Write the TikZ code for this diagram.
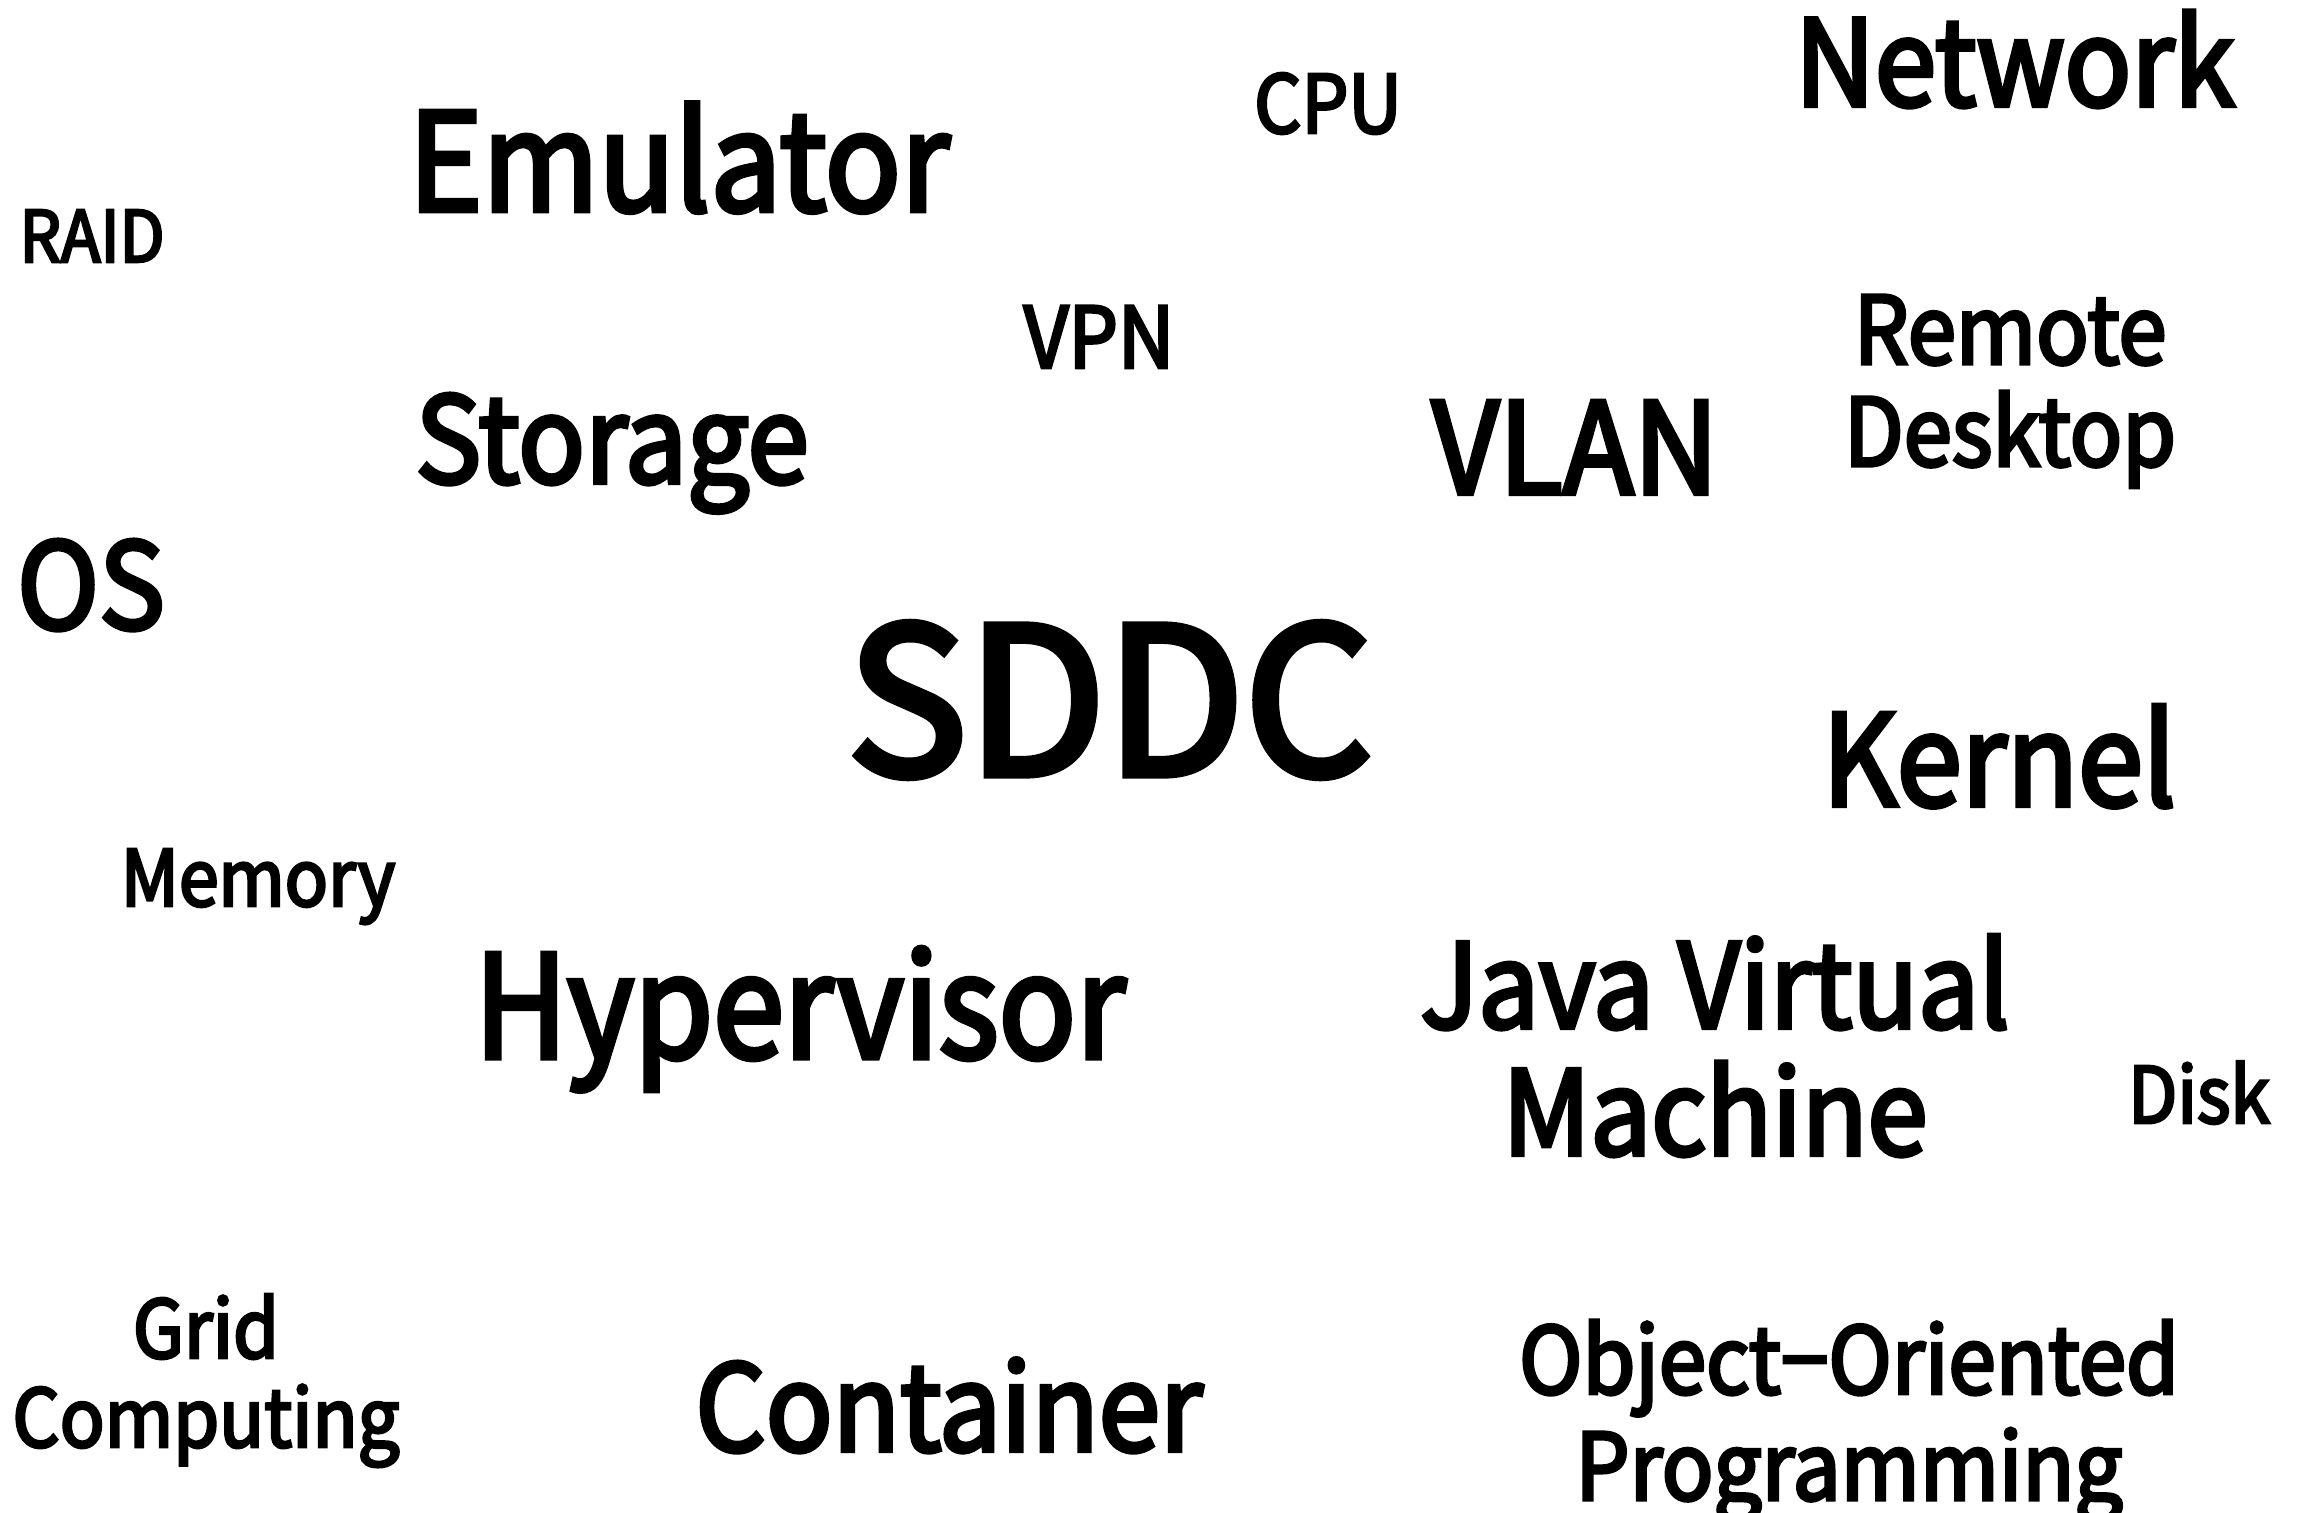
\documentclass[tikz,border=0pt]{standalone}
\usepackage{fontspec}
\setmainfont{Noto Sans CJK KR}[FakeStretch=0.92, FakeBold=3.5]
\newcommand{\wcs}[2]{\fontsize{#1}{#2}\selectfont}
\tikzset{word/.style={anchor=base, inner sep=0pt, align=center, text=black}}
\begin{document}
\begin{tikzpicture}[x=0.01cm,y=-0.01cm]
\fill[white] (0,0) rectangle (2310,1512);
\useasboundingbox (0,0) rectangle (2310,1512);
\node[word,font=\wcs{34.1}{38}] (network) at (2015,106) {Network};
\node[word,font=\wcs{38.8}{44}] (emulator) at (679,211) {Emulator};
\node[word,font=\wcs{22.9}{26}] (cpu) at (1328,133) {CPU};
\node[word,font=\wcs{20.2}{23}] (raid) at (92,262) {RAID};
\node[word,font=\wcs{24.1}{27}] (vpn) at (1099,368) {VPN};
\node[word,font=\wcs{26.8}{29}] (remote) at (2010,466) {Remote\\Desktop};
\node[word,font=\wcs{34.1}{38}] (storage) at (612,483) {Storage};
\node[word,font=\wcs{36.1}{40}] (vlan) at (1575,494) {VLAN};
\node[word,font=\wcs{34.1}{38}] (os) at (91,629) {OS};
\node[word,font=\wcs{58.2}{64},xscale=1.07] (sddc) at (1110,775) {SDDC};
\node[word,font=\wcs{36.1}{40}] (kernel) at (1999,806) {Kernel};
\node[word,font=\wcs{22.1}{25}] (memory) at (258,906) {Memory};
\node[word,font=\wcs{40.7}{45},xscale=0.97] (hypervisor) at (800,1058) {Hypervisor};
\node[word,font=\wcs{33.4}{36.1}] (jvm) at (1715,1155) {Java Virtual\\Machine};
\node[word,font=\wcs{22.1}{25}] (disk) at (2199,1123) {Disk};
\node[word,font=\wcs{22.9}{25.3}] (grid) at (206,1447) {Grid\\Computing};
\node[word,font=\wcs{34.1}{38}] (container) at (949,1451) {Container};
\node[word,font=\wcs{26.4}{30.2}] (oop) at (1849,1500) {Object−Oriented\\Programming};
\end{tikzpicture}
\end{document}
